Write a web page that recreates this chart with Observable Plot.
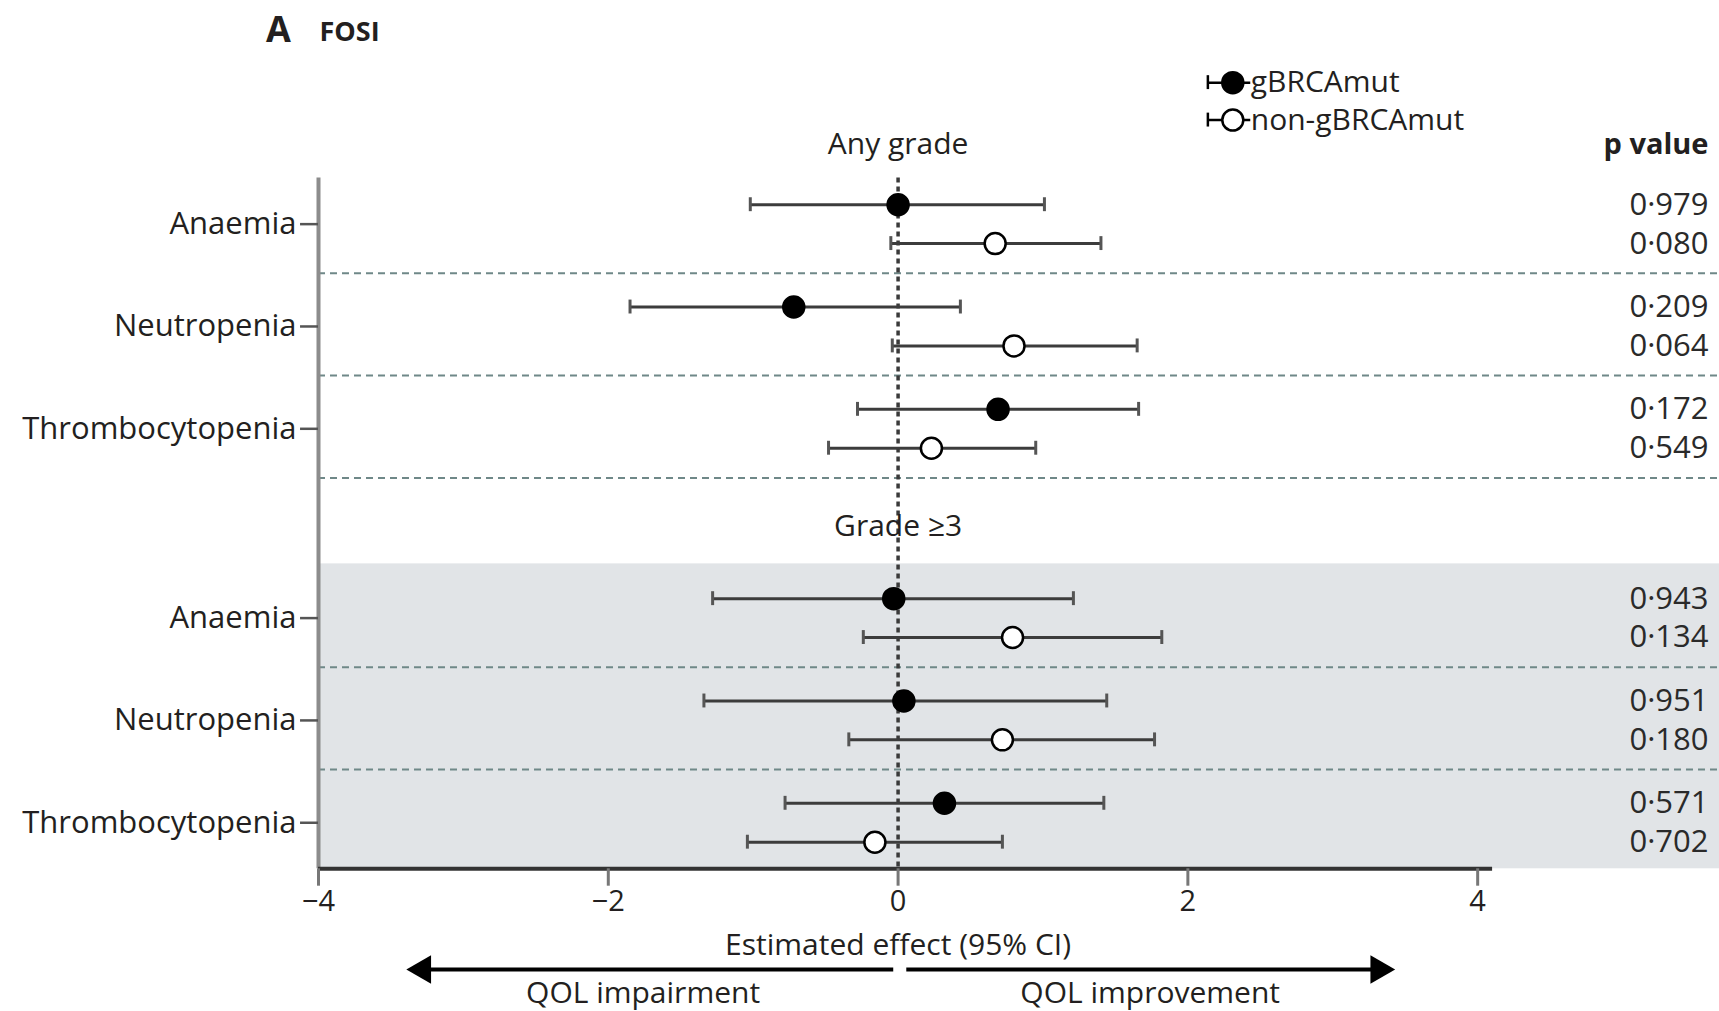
<!DOCTYPE html>
<html>
<head>
<meta charset="utf-8">
<script src="https://cdn.jsdelivr.net/npm/d3@7"></script>
<script src="https://cdn.jsdelivr.net/npm/@observablehq/plot@0.6"></script>
<style>
  html, body { margin: 0; padding: 0; background: #fff; }
  #chart { width: 1719px; height: 1011px; overflow: hidden; }
</style>
</head>
<body>
<div id="chart"></div>
<script>
// ---- Data: FOSI estimated effect (95% CI), ordered grade -> adverse event -> subgroup ----
const grades = ["Any grade", "Grade \u22653"];
const categories = ["Anaemia", "Neutropenia", "Thrombocytopenia"];
const series = ["gBRCAmut", "non-gBRCAmut"];
const estimate = [0.00, 0.67, -0.72, 0.80, 0.69, 0.23, -0.03, 0.79, 0.04, 0.72, 0.32, -0.16];
const lower    = [-1.02, -0.05, -1.85, -0.04, -0.28, -0.48, -1.28, -0.24, -1.34, -0.34, -0.78, -1.04];
const upper    = [1.01, 1.40, 0.43, 1.65, 1.66, 0.95, 1.21, 1.82, 1.44, 1.77, 1.42, 0.72];
const pValues  = ["0\u00b7979", "0\u00b7080", "0\u00b7209", "0\u00b7064", "0\u00b7172", "0\u00b7549",
                  "0\u00b7943", "0\u00b7134", "0\u00b7951", "0\u00b7180", "0\u00b7571", "0\u00b7702"];
const xTicks = [-4, -2, 0, 2, 4];
const axisTitle = "Estimated effect (95% CI)";
const directionLabels = ["QOL impairment", "QOL improvement"];
const pHeader = "p value";
const panelLetter = "A";
const panelTitle = "FOSI";

// ---- Layout (in scale units: one y unit = spacing between adverse events) ----
const groupStep = 3.85;      // second block starts after a gap
const seriesOffset = 0.19;   // subgroup rows above / below the category centre
const yTop = -0.45, yBottom = 6.30;
const xLeft = -4, xAxisEnd = 4.103, xRight = 5.669, xPcol = 5.593;
const headerY = [-0.78, 2.955];
const capHalf = 0.068;
const ink = "#231f20";

const rows = estimate.map((e, i) => {
  const g = Math.floor(i / 6), c = Math.floor(i / 2) % 3, s = i % 2;
  return {
    grade: grades[g], category: categories[c], series: series[s],
    est: e, lo: lower[i], hi: upper[i], p: pValues[i],
    y: g * groupStep + c + (s ? seriesOffset : -seriesOffset)
  };
});
const catRows = grades.flatMap((g, gi) => categories.map((c, ci) => ({grade: g, category: c, y: gi * groupStep + ci})));
const separators = catRows.map(d => d.y + 0.48).filter(y => y < yBottom - 0.1);
const caps = rows.flatMap(d => [{x: d.lo, y: d.y}, {x: d.hi, y: d.y}]);
const legendY = [-1.383, -1.017];

const chart = Plot.plot({
  width: 1719,
  height: 1011,
  marginLeft: 318,
  marginRight: 0,
  marginTop: 177.6,
  marginBottom: 1011 - 868.3,
  x: {domain: [xLeft, xRight], axis: null},
  y: {domain: [yTop, yBottom], reverse: true, axis: null},
  style: {fontFamily: "'Open Sans', sans-serif", color: ink, background: "#fff", overflow: "visible"},
  marks: [
    // shaded block for grade >= 3
    Plot.rect([grades[1]], {x1: xLeft, x2: xRight, y1: groupStep - 0.53, y2: yBottom, fill: "#e1e4e7"}),
    // dashed separators between adverse events
    Plot.ruleY(separators, {y: d => d, x1: xLeft, x2: xRight, stroke: "#6f8888", strokeWidth: 2, strokeDasharray: "7,5"}),
    // no-effect reference line
    Plot.ruleX([0], {y1: yTop, y2: yBottom, stroke: "#3a3a3a", strokeWidth: 3.5, strokeDasharray: "5,4"}),
    // y axis line, ticks and labels
    Plot.ruleX([xLeft], {y1: yTop, y2: yBottom, stroke: "#8c8c8c", strokeWidth: 4}),
    Plot.ruleY(catRows, {y: "y", x1: xLeft - 0.124, x2: xLeft, stroke: "#555", strokeWidth: 2.5}),
    Plot.text(catRows, {y: "y", x: xLeft, dx: -22, text: "category", textAnchor: "end", fontSize: 31}),
    // x axis
    Plot.ruleY([yBottom], {x1: xLeft, x2: xAxisEnd, stroke: "#333", strokeWidth: 4}),
    Plot.ruleX(xTicks, {x: d => d, y1: yBottom, y2: yBottom + 0.17, stroke: "#777", strokeWidth: 3}),
    Plot.text(xTicks, {x: d => d, y: 6.62, text: d => d < 0 ? "\u2212" + (-d) : String(d), fontSize: 29}),
    Plot.text([axisTitle], {x: 0, y: 7.05, text: d => d, fontSize: 30}),
    // direction arrows
    Plot.ruleY([7.285], {x1: -3.28, x2: -0.03, stroke: "#000", strokeWidth: 4}),
    Plot.ruleY([7.285], {x1: 0.06, x2: 3.317, stroke: "#000", strokeWidth: 4}),
    Plot.dot([-3.28, 3.317], {x: d => d, y: 7.285, symbol: "triangle", r: 10.6, fill: "#000", rotate: d => d < 0 ? -90 : 90}),
    Plot.text(directionLabels, {x: (d, i) => [-1.76, 1.74][i], y: 7.52, text: d => d, fontSize: 30}),
    // confidence intervals
    Plot.ruleY(rows, {y: "y", x1: "lo", x2: "hi", stroke: "#3c3c3c", strokeWidth: 3}),
    Plot.ruleX(caps, {x: "x", y1: d => d.y - capHalf, y2: d => d.y + capHalf, stroke: "#555", strokeWidth: 3}),
    // point estimates
    Plot.dot(rows, {x: "est", y: "y", r: 10.5, fill: d => d.series === series[0] ? "#000" : "#fff", stroke: "#000", strokeWidth: 2.5}),
    // p values
    Plot.text(rows, {x: xPcol, y: "y", text: "p", textAnchor: "end", fontSize: 31, fill: "#2a2a2a"}),
    Plot.text([pHeader], {x: xPcol, y: headerY[0], text: d => d, textAnchor: "end", fontWeight: "bold", fontSize: 29}),
    // block headers
    Plot.text(grades, {x: 0, y: (d, i) => headerY[i], text: d => d, fontSize: 30}),
    // legend
    Plot.ruleY(series, {y: (d, i) => legendY[i], x1: 2.138, x2: 2.434, stroke: "#000", strokeWidth: 2.5}),
    Plot.ruleX(series, {x: 2.138, y1: (d, i) => legendY[i] - capHalf, y2: (d, i) => legendY[i] + capHalf, stroke: "#000", strokeWidth: 2.5}),
    Plot.dot(series, {x: 2.31, y: (d, i) => legendY[i], r: 10.5, fill: (d, i) => i === 0 ? "#000" : "#fff", stroke: "#000", strokeWidth: 2.5}),
    Plot.text(series, {x: 2.434, y: (d, i) => legendY[i], text: d => d, textAnchor: "start", fontSize: 30}),
    // panel title
    Plot.text([panelLetter], {x: -4.362, y: -1.89, text: d => d, textAnchor: "start", fontWeight: "bold", fontSize: 36}),
    Plot.text([panelTitle], {x: -3.993, y: -1.87, text: d => d, textAnchor: "start", fontWeight: "bold", fontSize: 27})
  ]
});

document.getElementById("chart").append(chart);
</script>
</body>
</html>
